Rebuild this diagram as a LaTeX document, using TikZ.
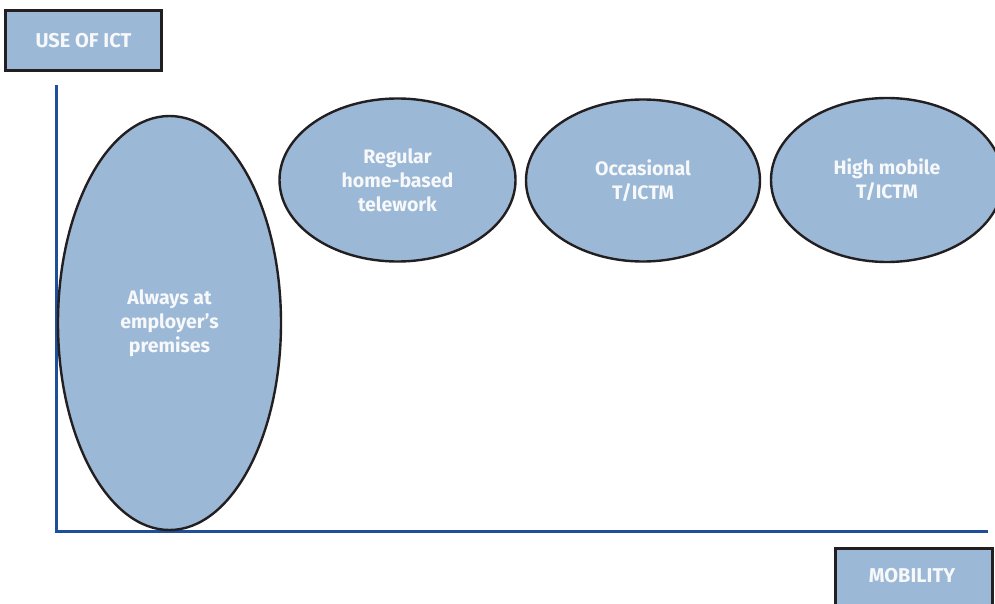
\documentclass[tikz,border=0pt]{standalone}
\usepackage{fontspec}
\setmainfont{Fira Sans}
\usetikzlibrary{shapes.geometric}
\definecolor{fillblue}{HTML}{9BB8D6}
\definecolor{axisblue}{HTML}{1F4E9A}
\definecolor{edgedark}{HTML}{231F20}
\definecolor{txt}{HTML}{F7F8FA}
\begin{document}
\begin{tikzpicture}[x=1pt,y=-1pt,
  bubble/.style={ellipse,draw=edgedark,fill=fillblue,line width=2.4pt,inner sep=0pt,
    text=txt,font=\fontsize{19.5}{24}\selectfont\bfseries,align=center},
  labelbox/.style={rectangle,draw=edgedark,fill=fillblue,line width=2.6pt,inner sep=0pt,
    text=txt,font=\fontsize{20}{24}\selectfont\bfseries},
  axis/.style={draw=axisblue,line width=3pt}]
\useasboundingbox (0,0) rectangle (995,604);
\coordinate (top) at (56,87);
\coordinate (origin) at (56,531);
\coordinate (right) at (986,531);
\draw[axis,line cap=rect] (top) -- (origin) -- (right);
\node[labelbox,minimum width=156pt,minimum height=60pt] (useict) at (83.5,40.5) {USE OF ICT};
\node[labelbox,minimum width=157pt,minimum height=64pt,anchor=north west] (mobbox) at (834,547) {};
\node[text=txt,font=\fontsize{20}{24}\selectfont\bfseries] (mob) at (912,576) {MOBILITY};
\node[bubble,minimum width=223pt,minimum height=414pt] (always) at (169.5,323) {Always at\\employer’s\\premises};
\node[bubble,minimum width=236pt,minimum height=163pt] (regular) at (397.5,180) {Regular\\home-based\\telework};
\node[bubble,minimum width=234pt,minimum height=162pt] (occ) at (643,180.5) {Occasional\\T/ICTM};
\node[bubble,minimum width=232pt,minimum height=164pt] (high) at (887,180) {High mobile\\T/ICTM};
\end{tikzpicture}
\end{document}
